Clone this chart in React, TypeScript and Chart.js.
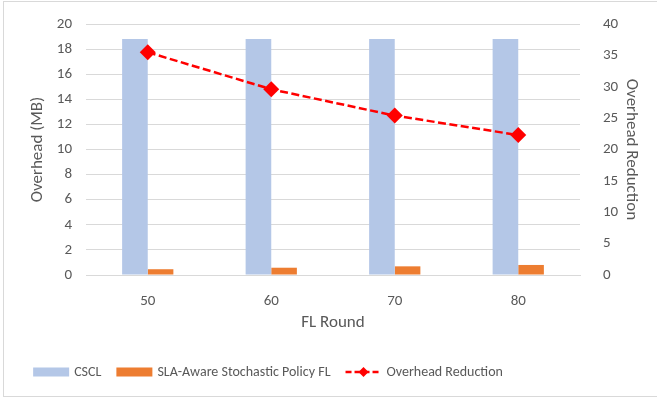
import { useEffect, useRef } from 'react';
import { Chart, registerables } from 'chart.js';
import type { Plugin } from 'chart.js';

Chart.register(...registerables);

// ---- data ----
const rounds = ['50', '60', '70', '80'];
const csclOverhead = [18.8, 18.8, 18.8, 18.8];
const slaOverhead = [0.46, 0.58, 0.69, 0.8];
const overheadReduction = [35.5, 29.6, 25.4, 22.3];

const leftTicks = [0, 2, 4, 6, 8, 10, 12, 14, 16, 18, 20];
const rightTicks = [0, 5, 10, 15, 20, 25, 30, 35, 40];

const FONT = "Carlito, Lato, 'Open Sans', sans-serif";
const TEXT = '#595959';
const GRID = '#d9d9d9';
const BLUE = '#b4c7e7';
const ORANGE = '#ed7d31';
const RED = '#ff0000';

// Excel style legend: wide boxes + dashed line with a diamond
const legendPlugin: Plugin<'bar'> = {
  id: 'excelLegend',
  afterDraw(chart) {
    const { ctx } = chart;
    const y = 372;
    ctx.save();
    ctx.font = `14px ${FONT}`;
    ctx.textBaseline = 'middle';
    const items = chart.data.datasets.map(ds => ({
      label: ds.label ?? '',
      type: (ds as { type?: string }).type ?? 'bar',
      color: (ds.backgroundColor as string) ?? '#000',
    }));
    const widths = items.map(it => 36 + 5 + ctx.measureText(it.label).width);
    const total = widths.reduce((a, b) => a + b, 0) + 15 * (items.length - 1);
    let x = 268 - total / 2;
    items.forEach((it, i) => {
      if (it.type === 'line') {
        ctx.strokeStyle = RED;
        ctx.lineWidth = 2.5;
        ctx.setLineDash([6, 3]);
        ctx.beginPath();
        ctx.moveTo(x, y);
        ctx.lineTo(x + 36, y);
        ctx.stroke();
        ctx.setLineDash([]);
        ctx.fillStyle = RED;
        ctx.beginPath();
        ctx.moveTo(x + 18 - 5, y);
        ctx.lineTo(x + 18, y - 5);
        ctx.lineTo(x + 18 + 5, y);
        ctx.lineTo(x + 18, y + 5);
        ctx.closePath();
        ctx.fill();
      } else {
        ctx.fillStyle = it.color;
        ctx.fillRect(x, y - 4.5, 36, 9);
      }
      ctx.fillStyle = TEXT;
      ctx.textAlign = 'left';
      ctx.fillText(it.label, x + 41, y);
      x += widths[i] + 15;
    });
    ctx.restore();
  },
};

export default function App() {
  const canvasRef = useRef<HTMLCanvasElement>(null);

  useEffect(() => {
    if (!canvasRef.current) return;
    const chart = new Chart(canvasRef.current, {
      type: 'bar',
      data: {
        labels: rounds,
        datasets: [
          {
            label: 'CSCL',
            data: csclOverhead,
            backgroundColor: BLUE,
            yAxisID: 'y',
            order: 1,
          },
          {
            label: 'SLA-Aware Stochastic Policy FL',
            data: slaOverhead,
            backgroundColor: ORANGE,
            yAxisID: 'y',
            order: 1,
          },
          {
            type: 'line',
            label: 'Overhead Reduction',
            data: overheadReduction,
            yAxisID: 'y1',
            borderColor: RED,
            backgroundColor: RED,
            borderWidth: 2.5,
            borderDash: [8, 3.5],
            pointStyle: 'rectRot',
            pointRadius: 8,
            pointBorderWidth: 0,
            pointBackgroundColor: RED,
            order: 0,
          } as never,
        ],
      },
      options: {
        animation: false,
        responsive: true,
        maintainAspectRatio: false,
        layout: { padding: { left: 6, right: 6, top: 22, bottom: 66 } },
        datasets: { bar: { categoryPercentage: 0.415, barPercentage: 1 } },
        plugins: {
          legend: { display: false },
          tooltip: { enabled: false },
        },
        scales: {
          x: {
            grid: { display: false },
            border: { color: GRID, width: 1 },
            ticks: { color: TEXT, font: { family: FONT, size: 15 }, padding: 9 },
            title: {
              display: true,
              text: 'FL Round',
              color: TEXT,
              font: { family: FONT, size: 17 },
              padding: { top: 0, bottom: 2 },
            },
            afterFit: s => { s.height = 60; },
          },
          y: {
            position: 'left',
            min: 0,
            max: 20,
            afterBuildTicks: s => { s.ticks = leftTicks.map(v => ({ value: v })); },
            grid: { color: GRID, drawTicks: false },
            border: { display: false },
            ticks: { color: TEXT, font: { family: FONT, size: 15 }, padding: 14 },
            title: {
              display: true,
              text: 'Overhead (MB)',
              color: TEXT,
              font: { family: FONT, size: 17 },
              padding: { top: 22, bottom: 0 },
            },
            afterFit: s => { s.width = 80; },
          },
          y1: {
            position: 'right',
            min: 0,
            max: 40,
            afterBuildTicks: s => { s.ticks = rightTicks.map(v => ({ value: v })); },
            grid: { display: false },
            border: { display: false },
            ticks: { color: TEXT, font: { family: FONT, size: 15 }, padding: 15 },
            title: {
              display: true,
              text: 'Overhead Reduction',
              color: TEXT,
              font: { family: FONT, size: 17 },
              padding: { top: 10, bottom: 0 },
            },
            afterFit: s => { s.width = 71; },
          },
        },
      },
      plugins: [legendPlugin],
    });
    return () => { chart.destroy(); };
  }, []);

  return (
    <div style={{ position: 'fixed', left: 0, top: 0, width: 657, height: 401, background: '#fff' }}>
      <div
        style={{
          position: 'absolute', left: 3, top: 1, width: 660, height: 396,
          border: '1px solid #d9d9d9', boxSizing: 'border-box',
        }}
      />
      <div style={{ position: 'absolute', left: 0, top: 0, width: 657, height: 401 }}>
        <canvas ref={canvasRef} />
      </div>
    </div>
  );
}
